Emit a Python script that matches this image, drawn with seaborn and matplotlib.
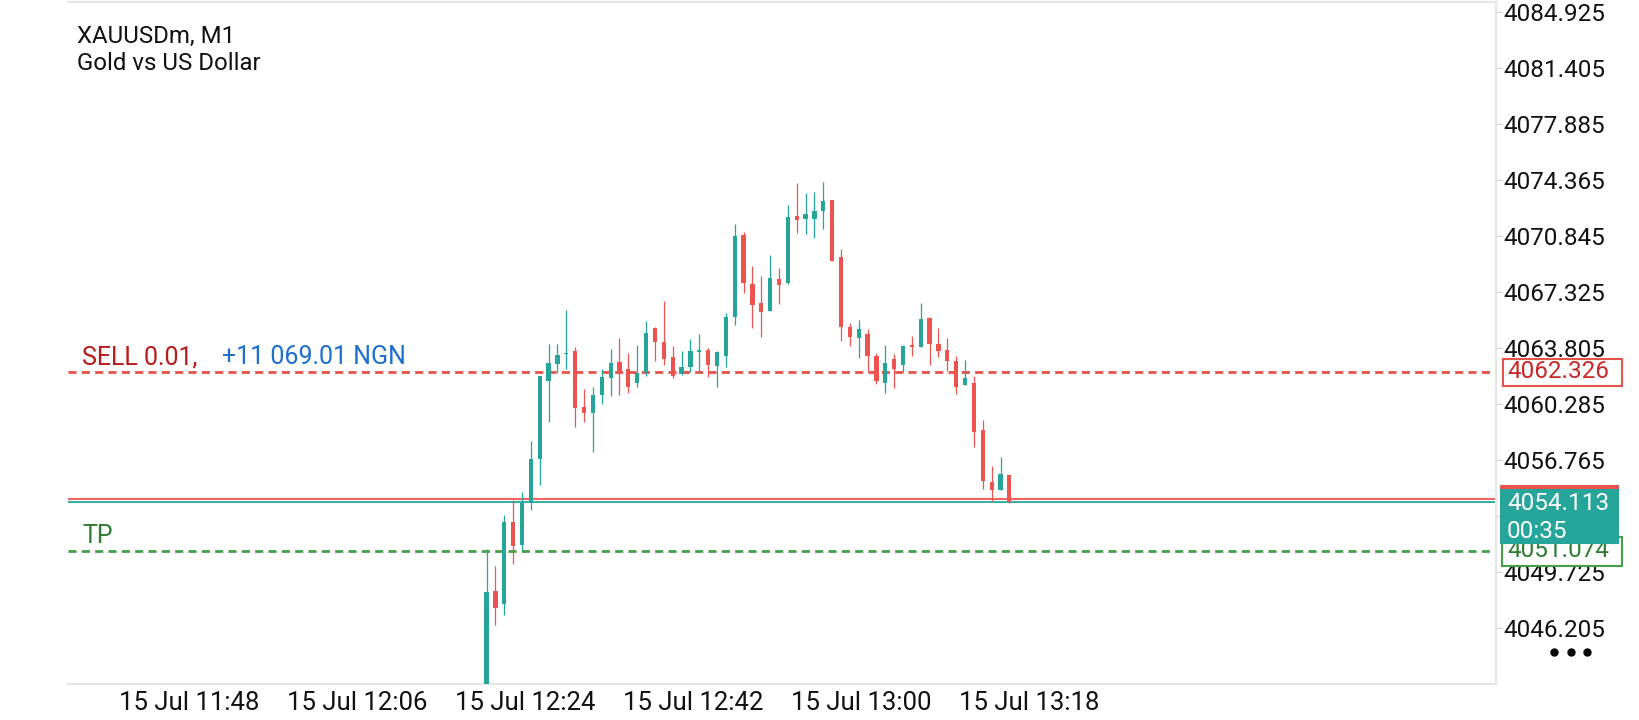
import numpy as np
import pandas as pd
import seaborn as sns
import matplotlib.pyplot as plt
from matplotlib.patches import Rectangle

# M1 candles (one per minute)
opens = [4041.80, 4048.53, 4047.73, 4052.87, 4051.42, 4054.08, 4056.83, 4061.75, 4062.78, 4063.42,
         4063.62, 4060.12, 4059.74, 4060.87, 4061.94, 4062.95, 4062.48, 4061.63, 4062.30, 4065.06,
         4064.18, 4063.24, 4062.17, 4062.63, 4063.58, 4063.68, 4062.69, 4063.32, 4065.77, 4070.91,
         4067.83, 4066.61, 4066.15, 4068.14, 4067.91, 4072.10, 4071.93, 4071.91, 4072.42, 4073.11,
         4069.52, 4065.12, 4064.45, 4064.68, 4063.30, 4061.63, 4063.09, 4062.74, 4063.99, 4063.87,
         4065.69, 4064.08, 4063.68, 4062.99, 4061.48, 4061.61, 4058.65, 4055.36, 4054.88, 4055.82]
highs = [4051.15, 4050.10, 4053.31, 4054.25, 4054.77, 4057.96, 4062.04, 4064.06, 4064.06, 4066.19,
         4063.85, 4061.23, 4061.33, 4062.46, 4063.74, 4064.41, 4063.49, 4063.99, 4065.50, 4065.13,
         4066.76, 4063.93, 4063.62, 4064.36, 4064.69, 4063.78, 4063.60, 4065.98, 4071.60, 4071.12,
         4068.96, 4068.33, 4069.65, 4068.85, 4072.79, 4074.20, 4073.55, 4073.61, 4074.24, 4073.11,
         4070.03, 4065.36, 4065.56, 4065.00, 4063.51, 4063.99, 4063.43, 4063.99, 4064.56, 4066.65,
         4065.77, 4065.06, 4064.43, 4063.30, 4063.05, 4062.05, 4059.28, 4056.39, 4056.93, 4055.82]
lows = [4041.50, 4046.39, 4047.02, 4050.23, 4051.11, 4053.62, 4055.21, 4059.17, 4062.21, 4062.48,
        4058.86, 4059.17, 4057.29, 4060.28, 4060.81, 4060.85, 4061.00, 4061.37, 4062.07, 4063.01,
        4062.76, 4061.94, 4062.11, 4062.32, 4062.30, 4062.00, 4061.37, 4062.63, 4065.27, 4067.28,
        4065.08, 4064.52, 4066.15, 4066.57, 4067.83, 4071.05, 4070.97, 4070.72, 4071.28, 4069.30,
        4064.24, 4063.93, 4063.18, 4062.30, 4061.54, 4061.00, 4061.29, 4062.30, 4063.30, 4063.87,
        4062.74, 4063.24, 4062.36, 4060.91, 4061.48, 4057.60, 4054.94, 4054.21, 4054.88, 4054.04]
closes = [4048.49, 4047.48, 4052.87, 4051.38, 4054.08, 4056.83, 4062.04, 4062.86, 4063.36, 4063.44,
          4060.05, 4059.74, 4060.85, 4061.98, 4062.86, 4062.28, 4061.37, 4062.21, 4064.77, 4064.18,
          4063.13, 4062.07, 4062.59, 4063.62, 4063.62, 4062.74, 4063.55, 4065.75, 4070.84, 4067.91,
          4066.53, 4066.09, 4068.22, 4067.79, 4072.04, 4071.85, 4072.23, 4072.42, 4073.05, 4069.30,
          4065.15, 4064.50, 4065.00, 4063.30, 4061.73, 4062.86, 4062.48, 4063.93, 4063.89, 4065.63,
          4064.08, 4063.62, 4062.99, 4061.35, 4061.92, 4058.52, 4055.47, 4054.88, 4055.88, 4054.113]

time_ticks = [-41.5, -22.5, -3.56, 15.4, 34.36, 53.32]
time_labels = ['15 Jul 11:48', '15 Jul 12:06', '15 Jul 12:24',
               '15 Jul 12:42', '15 Jul 13:00', '15 Jul 13:18']
price_ticks = [4046.205, 4049.725, 4053.245, 4056.765, 4060.285, 4063.805,
               4067.325, 4070.845, 4074.365, 4077.885, 4081.405, 4084.925]

sell_price = 4062.326
tp_price = 4051.074
bid = 4054.113
ask = 4054.31
profit_text = '+11 069.01 NGN'
timer_text = '00:35'

UP = '#26a69a'
DOWN = '#ef5350'

df = pd.DataFrame({'open': opens, 'high': highs, 'low': lows, 'close': closes})
df['bar'] = np.arange(len(df))
df['up'] = df['close'] >= df['open']
df['color'] = np.where(df['up'], UP, DOWN)

sns.set_theme(style="white")
plt.rcParams['font.family'] = ['Roboto', 'DejaVu Sans']
FS = 17.5

fig = plt.figure(figsize=(16.4, 7.2), dpi=100)
ax = fig.add_axes([68 / 1640, 36 / 720, 1428 / 1640, 682 / 720])

def axx(px):
    return (px - 68) / 1428.0

def axy(py):
    return (684 - py) / 682.0

# wicks and bodies
ax.vlines(df['bar'], df['low'], df['high'], colors=df['color'], lw=0.9, zorder=3)
body_h = np.maximum((df['close'] - df['open']).abs(), 0.07)
ax.bar(df['bar'], body_h, bottom=np.minimum(df['open'], df['close']),
       width=0.48, color=df['color'], linewidth=0, zorder=4)

# trade lines
ax.axhline(sell_price, color='#e5534b', lw=2.0, ls=(0, (2.9, 1.9)), zorder=2)
ax.axhline(tp_price, color='#43a047', lw=2.0, ls=(0, (2.9, 1.9)), zorder=2)
ax.axhline(ask, color=DOWN, lw=1.3, zorder=2)
ax.axhline(bid, color=UP, lw=1.3, zorder=2)

ax.set_xlim(-47.24, 113.92)
ax.set_ylim(4042.685, 4085.554)

ax.yaxis.tick_right()
ax.set_yticks(price_ticks, ['%.3f' % p for p in price_ticks])
ax.set_xticks(time_ticks, time_labels)
for lab in ax.get_xticklabels():
    lab.set_horizontalalignment('left')
ax.tick_params(axis='y', length=4.3, width=0.8, color='#cccccc', pad=0.8,
               labelsize=FS, labelcolor='#111111')
ax.tick_params(axis='x', length=4.0, width=0.8, color='#cccccc', pad=1.2,
               labelsize=18.5, labelcolor='#111111')
for side in ['top', 'right', 'bottom']:
    ax.spines[side].set_color('#e6e6e6')
    ax.spines[side].set_linewidth(1.6)
ax.spines['left'].set_visible(False)
ax.set_xlabel('')
ax.set_ylabel('')

# header
ax.text(axx(77), axy(42.7), 'XAUUSDm, M1', transform=ax.transAxes,
        fontsize=17.3, color='#111111', va='baseline', ha='left')
ax.text(axx(77), axy(70), 'Gold vs US Dollar', transform=ax.transAxes,
        fontsize=17.3, color='#111111', va='baseline', ha='left')

# line labels
ytr = ax.get_yaxis_transform()
ax.text(axx(82), sell_price + 0.45, 'SELL 0.01,', transform=ytr,
        fontsize=18, color='#b71c1c', va='baseline', ha='left')
ax.text(axx(222), sell_price + 0.45, profit_text, transform=ytr,
        fontsize=18, color='#1e6fcc', va='baseline', ha='left')
ax.text(axx(82), tp_price + 0.49, 'TP', transform=ytr,
        fontsize=18, color='#2e7d32', va='baseline', ha='left')

# price boxes on the right scale
def v(py):
    return 4084.925 - (py - 12) / 15.909

ax.add_patch(Rectangle((axx(1503), v(386)), axx(1622) - axx(1503), v(359) - v(386),
                       transform=ytr, clip_on=False, facecolor='white',
                       edgecolor='#e5534b', lw=1.5, zorder=6))
ax.text(axx(1507), sell_price, '%.3f' % sell_price, transform=ytr, clip_on=False,
        fontsize=FS, color='#c62828', va='center', ha='left', zorder=7)

ax.add_patch(Rectangle((axx(1502), v(566)), axx(1622) - axx(1502), v(537) - v(566),
                       transform=ytr, clip_on=False, facecolor='white',
                       edgecolor='#43a047', lw=1.5, zorder=6))
ax.text(axx(1507), tp_price, '%.3f' % tp_price, transform=ytr, clip_on=False,
        fontsize=FS, color='#2e7d32', va='center', ha='left', zorder=7)

ax.add_patch(Rectangle((axx(1500), v(513)), axx(1619) - axx(1500), v(485) - v(513),
                       transform=ytr, clip_on=False, facecolor=DOWN, lw=0, zorder=8))
ax.add_patch(Rectangle((axx(1500), v(544)), axx(1619) - axx(1500), v(489) - v(544),
                       transform=ytr, clip_on=False, facecolor=UP, lw=0, zorder=9))
ax.text(axx(1507), v(503), '%.3f' % bid, transform=ytr, clip_on=False,
        fontsize=FS, color='white', va='center', ha='left', zorder=10)
ax.text(axx(1507), v(531), timer_text, transform=ytr, clip_on=False,
        fontsize=FS, color='white', va='center', ha='left', zorder=10)

# menu dots
ax.plot([axx(1554), axx(1571), axx(1587)], [axy(652)] * 3, 'o', color='black',
        ms=5, transform=ax.transAxes, clip_on=False, zorder=10)

fig.savefig('out.png', dpi=100)
